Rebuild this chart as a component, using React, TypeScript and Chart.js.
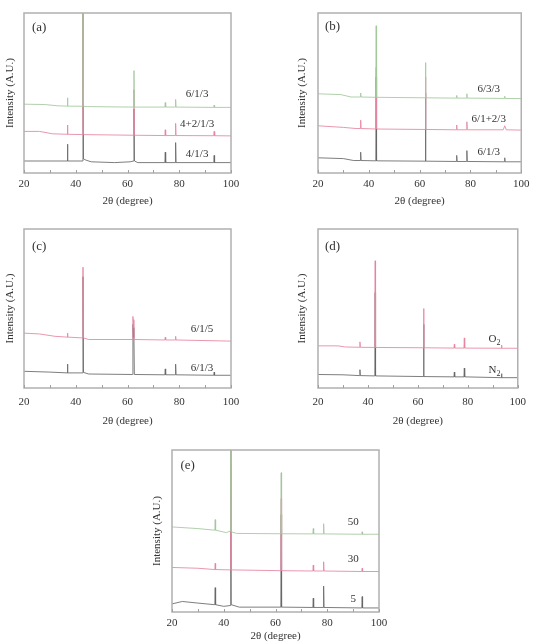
import { useEffect, useRef } from "react";
import { Chart, registerables } from "chart.js";

Chart.register(...registerables);

const FONT = "'Liberation Serif', 'Times New Roman', serif";
const GREEN = "#a2c89c";
const PINK = "#e5849f";
const DARK = "#676767";
const TEXT = "#333333";

type P = [number, number];

// x-axis ticks (2θ, degree)
const X_MIN = 20;
const X_MAX = 100;
const X_STEP = 10;
const X_LABEL_STEP = 20;

// ---------- panel (a) ----------
const a_613: P[] = [[20,43],[28,42.8],[33,42],[36.65,41.8],[36.8,47],[36.95,41.8],[42.65,41.7],[42.8,115],[42.95,41.7],[44.5,41.5],[62.35,41.2],[62.5,64],[62.65,41.2],[74.45,41.2],[74.6,44],[74.75,41.2],[78.45,41.2],[78.6,46],[78.75,41.2],[93.35,41],[93.5,42.5],[93.65,41],[100,41]];
const a_4213: P[] = [[20,26],[26,26],[31,24.5],[36.65,24.2],[36.8,30],[36.95,24.2],[42.65,24],[42.8,115],[42.95,24],[62.35,23.6],[62.5,52],[62.65,23.6],[74.45,23.4],[74.6,27],[74.75,23.4],[78.45,23.4],[78.6,31],[78.75,23.4],[93.3,23.3],[93.5,26],[93.7,23.3],[100,23.2]];
const a_413: P[] = [[20,7.5],[36.65,7.5],[36.8,18],[36.95,7.5],[42.65,7.5],[42.8,115],[43.0,8.8],[44,8],[46,7],[55,6.5],[61,7],[62.35,7.5],[62.5,40],[62.7,7.5],[64,6.5],[74.45,6.5],[74.6,13],[74.75,6.5],[78.45,6.5],[78.6,19],[78.75,6.5],[93.35,6.5],[93.5,11],[93.65,6.5],[100,6.5]];

// ---------- panel (b) ----------
const b_633: P[] = [[20,49.5],[29,49],[33,47.5],[36.65,47.5],[36.8,50],[36.95,47.5],[42.75,47.3],[42.9,92],[43.05,47.3],[62.15,47],[62.3,69],[62.45,47],[74.45,46.8],[74.6,48.5],[74.75,46.8],[78.45,46.8],[78.6,49.5],[78.75,46.8],[93.35,46.6],[93.5,48],[93.65,46.6],[100,46.5]];
const b_6123: P[] = [[20,29.5],[30,28.5],[35,27.8],[36.65,27.8],[36.8,33],[36.95,27.8],[42.75,27.5],[42.9,66],[43.05,27.5],[62.15,27.2],[62.3,60],[62.45,27.2],[74.45,27],[74.6,30],[74.75,27],[78.45,27],[78.6,32],[78.75,27],[92.9,27],[93.5,29.5],[94.1,27],[100,26.8]];
const b_613: P[] = [[20,9.5],[30,9],[34,7.8],[36.65,7.8],[36.8,13],[36.95,7.8],[42.75,7.6],[42.9,60],[43.05,7.6],[62.15,7.4],[62.3,50],[62.45,7.4],[74.45,7.2],[74.6,11],[74.75,7.2],[78.45,7.2],[78.6,14],[78.75,7.2],[93.35,7],[93.5,9.5],[93.65,7],[100,7]];

// ---------- panel (c) ----------
const c_615: P[] = [[20,34.5],[26,34],[32,32.5],[36.65,32],[36.8,34.5],[36.95,32],[42.65,31.5],[42.8,76],[42.95,31.5],[45,30.5],[61.95,30.5],[62.1,45],[62.3,38],[62.45,43],[62.6,30.5],[74.45,30.2],[74.6,32],[74.75,30.2],[78.45,30.2],[78.6,32.5],[78.75,30.2],[100,29.5]];
const c_613: P[] = [[20,10.5],[30,10],[36.65,9.5],[36.8,15],[36.95,9.5],[42.6,9.5],[42.8,70],[43.0,9.8],[45,8.8],[61.9,8.5],[62.1,40],[62.3,32],[62.45,38],[62.65,8.5],[74.45,8.3],[74.6,12],[74.75,8.3],[78.45,8.3],[78.6,15],[78.75,8.3],[93.35,8],[93.5,10],[93.65,8],[100,8]];

// ---------- panel (d) ----------
const d_o2: P[] = [[20,26.5],[28,26.5],[31,25.8],[36.65,25.6],[36.8,29],[36.95,25.6],[42.75,25.5],[42.9,80],[43.05,25.5],[62.15,25.3],[62.3,50],[62.45,25.3],[74.45,25.1],[74.6,27.5],[74.75,25.1],[78.45,25.1],[78.6,31.5],[78.75,25.1],[93.35,25],[93.5,27],[93.65,25],[100,25]];
const d_n2: P[] = [[20,8.5],[30,8.3],[36.65,7.8],[36.8,11.5],[36.95,7.8],[42.75,7.6],[42.9,60],[43.05,7.6],[62.15,7.2],[62.3,40],[62.45,7.2],[74.45,7],[74.6,10],[74.75,7],[78.45,7],[78.6,12.5],[78.75,7],[93.35,6.5],[93.5,9],[93.65,6.5],[100,6.5]];

// ---------- panel (e) ----------
const e_50: P[] = [[20,52.5],[30,51.5],[36.55,50.5],[36.7,57],[36.85,50.5],[41,49],[42.55,50],[42.7,115],[42.85,49.5],[45,48.5],[62.05,48.3],[62.2,86],[62.35,48.3],[74.45,48.2],[74.6,51.5],[74.75,48.2],[78.45,48.2],[78.6,54.5],[78.75,48.2],[93.35,48],[93.5,49.5],[93.65,48],[100,48]];
const e_30: P[] = [[20,27.5],[30,27],[36.55,26.2],[36.7,30],[36.85,26.2],[42.55,26],[42.7,115],[42.85,26],[62.05,25.5],[62.2,70],[62.35,25.5],[74.45,25.3],[74.6,29],[74.75,25.3],[78.45,25.3],[78.6,31],[78.75,25.3],[93.35,25],[93.5,27],[93.65,25],[100,25]];
const e_5: P[] = [[20,5],[24,6.5],[30,5.5],[36.55,4.5],[36.7,15],[36.85,4.5],[40,3.5],[42.55,4],[42.7,115],[42.9,4.5],[46,3],[62.05,3],[62.2,60],[62.35,3],[74.45,2.8],[74.6,8.5],[74.75,2.8],[78.45,2.8],[78.6,16],[78.75,2.8],[93.35,2.5],[93.5,9.5],[93.65,2.5],[100,2.5]];

type Lbl = { text: string; sub?: string; x: number; y: number };
type Series = { data: P[]; color: string };
type PanelCfg = {
  letter: string;
  canvas: [number, number, number, number];
  area: [number, number, number, number];
  yTitleX: number;
  xTitleY: number;
  tickGap: number;
  letterD: [number, number];
  series: Series[];
  labels: Lbl[];
};

const PANELS: PanelCfg[] = [
  {
    letter: "(a)", canvas: [0, 0, 265, 215], area: [24, 13, 231, 173], yTitleX: 10.5, xTitleY: 201.5, tickGap: 11, letterD: [8, 14.7],
    series: [{ data: a_613, color: GREEN }, { data: a_4213, color: PINK }, { data: a_413, color: DARK }],
    labels: [{ text: "6/1/3", x: 86.9, y: 49.4 }, { text: "4+2/1/3", x: 86.9, y: 30.6 }, { text: "4/1/3", x: 86.9, y: 11.9 }],
  },
  {
    letter: "(b)", canvas: [265, 0, 270, 215], area: [318, 13, 524, 173], yTitleX: 302.5, xTitleY: 201.5, tickGap: 11, letterD: [7, 13.7],
    series: [{ data: b_633, color: GREEN }, { data: b_6123, color: PINK }, { data: b_613, color: DARK }],
    labels: [{ text: "6/3/3", x: 87.2, y: 52.5 }, { text: "6/1+2/3", x: 87.2, y: 33.8 }, { text: "6/1/3", x: 87.2, y: 13.1 }],
  },
  {
    letter: "(c)", canvas: [0, 215, 265, 215], area: [24, 229, 231, 388], yTitleX: 10.5, xTitleY: 421, tickGap: 14.5, letterD: [8, 17.7],
    series: [{ data: c_615, color: PINK }, { data: c_613, color: DARK }],
    labels: [{ text: "6/1/5", x: 88.8, y: 37.1 }, { text: "6/1/3", x: 88.8, y: 12.6 }],
  },
  {
    letter: "(d)", canvas: [265, 215, 270, 215], area: [318, 229, 524, 388], yTitleX: 302.5, xTitleY: 421, tickGap: 14.5, letterD: [7, 17.7],
    series: [{ data: d_o2, color: PINK }, { data: d_n2, color: DARK }],
    labels: [{ text: "O", sub: "2", x: 90.7, y: 30.8 }, { text: "N", sub: "2", x: 90.7, y: 11.3 }],
  },
  {
    letter: "(e)", canvas: [140, 430, 260, 212], area: [172, 450, 379, 612], yTitleX: 157, xTitleY: 636.5, tickGap: 11, letterD: [8.5, 16],
    series: [{ data: e_50, color: GREEN }, { data: e_30, color: PINK }, { data: e_5, color: DARK }],
    labels: [{ text: "50", x: 90, y: 55.6 }, { text: "30", x: 90, y: 32.7 }, { text: "5", x: 90, y: 8 }],
  },
];

const decorPlugin = {
  id: "panelDecor",
  afterDraw(chart: any, _args: any, opts: any) {
    const { ctx, chartArea } = chart;
    const { left, top, right, bottom } = chartArea;
    const xs = chart.scales.x;
    const ys = chart.scales.y;
    ctx.save();
    ctx.strokeStyle = "#b0b0b0";
    ctx.lineWidth = 1.5;
    ctx.strokeRect(left, top, right - left, bottom - top);
    ctx.strokeStyle = "#a0a0a0";
    ctx.lineWidth = 1;
    xs.ticks.forEach((t: any) => {
      const px = Math.round(xs.getPixelForValue(t.value)) + 0.5;
      ctx.beginPath();
      ctx.moveTo(px, bottom);
      ctx.lineTo(px, bottom - 3);
      ctx.stroke();
    });
    ctx.fillStyle = TEXT;
    ctx.textBaseline = "middle";
    ctx.textAlign = "left";
    ctx.font = `13px ${FONT}`;
    ctx.fillText(opts.letter, left + opts.letterD[0], top + opts.letterD[1]);
    for (const l of opts.labels as Lbl[]) {
      const px = xs.getPixelForValue(l.x);
      const py = ys.getPixelForValue(l.y);
      ctx.font = `11px ${FONT}`;
      const w1 = ctx.measureText(l.text).width;
      let w2 = 0;
      if (l.sub) {
        ctx.font = `8px ${FONT}`;
        w2 = ctx.measureText(l.sub).width;
      }
      const x0 = px - (w1 + w2) / 2;
      ctx.font = `11px ${FONT}`;
      ctx.fillText(l.text, x0, py);
      if (l.sub) {
        ctx.font = `8px ${FONT}`;
        ctx.fillText(l.sub, x0 + w1, py + 3.5);
      }
    }
    ctx.restore();
  },
};

function PanelChart({ cfg }: { cfg: PanelCfg }) {
  const ref = useRef<HTMLCanvasElement | null>(null);
  useEffect(() => {
    if (!ref.current) return;
    const [cx, cy, cw, ch] = cfg.canvas;
    const [L, T, R, B] = cfg.area;
    const half = 5.5;
    const padLeft = cfg.yTitleX - cx - half;
    const yW = L - cx - padLeft;
    const padTop = T - cy;
    const padRight = cx + cw - R;
    const xH = cfg.xTitleY + half - B;
    const padBottom = Math.max(0, cy + ch - (B + xH));
    const chart = new Chart(ref.current, {
      type: "line",
      data: {
        datasets: cfg.series.map((s) => ({
          data: s.data.map(([x, y]) => ({ x, y })),
          borderColor: s.color,
          backgroundColor: s.color,
          borderWidth: 0.85,
          pointRadius: 0,
          tension: 0,
          fill: false,
        })),
      },
      options: {
        animation: false,
        responsive: false,
        maintainAspectRatio: false,
        layout: { padding: { left: padLeft, top: padTop, right: padRight, bottom: padBottom } },
        plugins: {
          legend: { display: false },
          tooltip: { enabled: false },
          panelDecor: { letter: cfg.letter, letterD: cfg.letterD, labels: cfg.labels },
        } as any,
        scales: {
          x: {
            type: "linear",
            min: X_MIN,
            max: X_MAX,
            grid: { display: false, drawTicks: false },
            border: { display: false },
            ticks: {
              stepSize: X_STEP,
              autoSkip: false,
              maxRotation: 0,
              padding: cfg.tickGap - 5.5,
              color: TEXT,
              font: { family: FONT, size: 11, lineHeight: 1 },
              callback: (v: any) => (Number(v) % X_LABEL_STEP === 0 ? String(v) : ""),
            },
            title: {
              display: true,
              text: "2θ (degree)",
              color: TEXT,
              padding: 0,
              font: { family: FONT, size: 11, lineHeight: 1 },
            },
            afterFit: (s: any) => { s.height = xH; },
          },
          y: {
            min: 0,
            max: 100,
            grid: { display: false, drawTicks: false },
            border: { display: false },
            ticks: { display: false },
            title: {
              display: true,
              text: "Intensity (A.U.)",
              color: TEXT,
              padding: 0,
              font: { family: FONT, size: 11, lineHeight: 1 },
            },
            afterFit: (s: any) => { s.width = yW; },
          },
        },
      },
      plugins: [decorPlugin],
    });
    return () => chart.destroy();
  }, [cfg]);
  const [cx, cy, cw, ch] = cfg.canvas;
  return (
    <canvas
      ref={ref}
      width={cw}
      height={ch}
      style={{ position: "absolute", left: cx, top: cy, width: cw, height: ch }}
    />
  );
}

export default function App() {
  return (
    <div style={{ position: "absolute", left: 0, top: 0, width: 535, height: 642, background: "#ffffff" }}>
      {PANELS.map((p) => (
        <PanelChart key={p.letter} cfg={p} />
      ))}
    </div>
  );
}
